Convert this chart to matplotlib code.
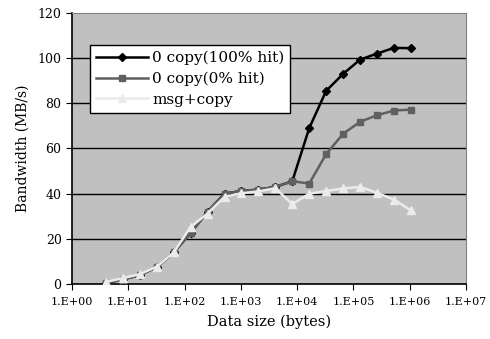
import matplotlib
matplotlib.use("Agg")
import matplotlib.pyplot as plt

sizes = [2**k for k in range(2, 21)]
hit100 = [0.5, 2.0, 4.0, 7.5, 14.0, 22.6, 32.0, 40.0, 41.2, 41.8, 43.0, 45.5,
          69.0, 85.5, 93.0, 99.3, 102.0, 104.5, 104.4]
hit0 = [0.5, 2.0, 4.0, 7.5, 14.0, 22.6, 32.0, 40.0, 41.2, 41.8, 43.0, 45.5,
        44.5, 57.5, 66.5, 71.8, 74.7, 76.8, 77.2]
msgcopy = [1.0, 2.6, 4.4, 7.7, 14.0, 25.3, 31.2, 38.6, 40.2, 41.0, 42.4, 35.4,
           40.0, 41.2, 42.3, 43.0, 40.4, 37.4, 32.6]
xticks = [10**k for k in range(0, 8)]
xticklabels = ["1.E+00", "1.E+01", "1.E+02", "1.E+03", "1.E+04", "1.E+05", "1.E+06", "1.E+07"]
yticks = [0, 20, 40, 60, 80, 100, 120]

plt.rcParams['font.family'] = ['DejaVu Serif']

fig = plt.figure(figsize=(4.9, 3.39), dpi=100)
ax = fig.add_axes([0.147, 0.162, 0.804, 0.800])
ax.set_facecolor('#C0C0C0')

for y in yticks[1:-1]:
    ax.axhline(y, color='black', lw=1.0, zorder=1)

ax.plot(sizes, hit100, color='black', lw=1.8, marker='D', ms=4.2, mfc='black', mec='black',
        label='0 copy(100% hit)', zorder=3)
ax.plot(sizes, hit0, color='#606060', lw=1.8, marker='s', ms=5.0, mfc='#606060', mec='#606060',
        label='0 copy(0% hit)', zorder=4)
ax.plot(sizes, msgcopy, color='#EBEBEB', lw=1.8, marker='^', ms=6.0, mfc='#EBEBEB', mec='#EBEBEB',
        label='msg+copy', zorder=5)

ax.set_xscale('log')
ax.set_xlim(1, 1e7)
ax.set_ylim(0, 120)
ax.set_xticks(xticks)
ax.set_xticklabels(xticklabels, fontsize=8)
ax.minorticks_off()
ax.set_yticks(yticks)
ax.tick_params(axis='y', labelsize=9, direction='out', length=4)
ax.tick_params(axis='x', direction='out', length=4, pad=5)

for s in ['top', 'right']:
    ax.spines[s].set_color('#808080')
for s in ['left', 'bottom']:
    ax.spines[s].set_color('black')
    ax.spines[s].set_linewidth(1.2)

ax.set_xlabel('Data size (bytes)', fontsize=10.5, labelpad=6)
ax.set_ylabel('Bandwidth (MB/s)', fontsize=10, labelpad=6)

leg = ax.legend(loc='upper left', bbox_to_anchor=(0.046, 0.882), fontsize=11,
                frameon=True, fancybox=False, framealpha=1, edgecolor='black',
                handlelength=3.4, borderpad=0.4, labelspacing=0.42, handletextpad=0.25,
                borderaxespad=0)
leg.get_frame().set_linewidth(1.0)

fig.savefig('out.png', dpi=100)
